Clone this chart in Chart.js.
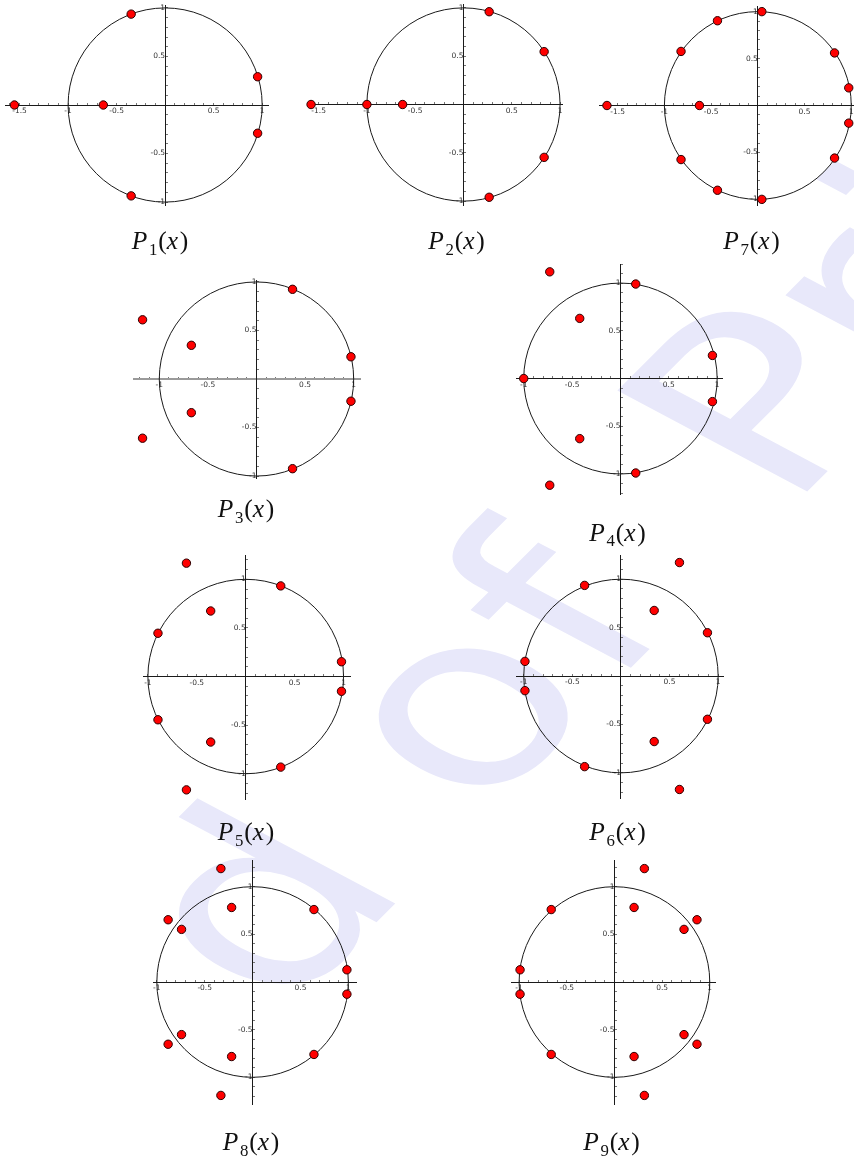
<!DOCTYPE html>
<html>
<head>
<meta charset="utf-8">
<script src="https://cdn.jsdelivr.net/npm/chart.js@4.4.1/dist/chart.umd.min.js"></script>
<style>
html,body{margin:0;padding:0;background:#fff;}
#page{position:relative;width:854px;height:1160px;overflow:hidden;background:#fff;}
#wm{position:absolute;left:0;top:0;}
canvas.plot{position:absolute;}
.lbl{position:absolute;transform:translate(-50%,-50%);font-family:"Liberation Serif","DejaVu Serif",serif;font-size:25.5px;line-height:1;white-space:nowrap;color:#111;}
.lbl i{letter-spacing:1.5px;}
.lbl sub{font-style:normal;font-size:0.66em;vertical-align:-0.34em;line-height:0;margin-right:1px;}
</style>
</head>
<body>
<div id="page"><canvas id="wm" width="854" height="1160"></canvas></div>
<script>
const p1Re=[-1.553,-0.637,-0.35,-0.35,0.953,0.953];
const p1Im=[0,0,0.936,-0.936,0.291,-0.291];
const p2Re=[-1.578,-1,-0.63,0.266,0.266,0.835,0.835];
const p2Im=[0,0,0,0.96,-0.96,0.547,-0.547];
const p7Re=[-1.615,-0.625,0.043,0.043,-0.432,-0.432,-0.822,-0.822,0.821,0.821,0.973,0.973];
const p7Im=[0,0,1.0,-1.0,0.903,-0.903,0.576,-0.576,0.56,-0.56,0.188,-0.188];
const p3Re=[-1.172,-1.172,-0.67,-0.67,0.371,0.371,0.972,0.972];
const p3Im=[0.61,-0.61,0.347,-0.347,0.924,-0.924,0.229,-0.229];
const p4Re=[-1,-0.731,-0.731,-0.421,-0.421,0.158,0.158,0.951,0.951];
const p4Im=[0,1.118,-1.118,0.63,-0.63,0.99,-0.99,0.242,-0.242];
const p5Re=[-0.606,-0.606,-0.358,-0.358,-0.897,-0.897,0.358,0.358,0.979,0.979];
const p5Im=[1.166,-1.166,0.674,-0.674,0.445,-0.445,0.932,-0.932,0.152,-0.152];
const p6Re=[0.602,0.602,0.342,0.342,0.89,0.89,-0.374,-0.374,-0.988,-0.988];
const p6Im=[1.172,-1.172,0.677,-0.677,0.447,-0.447,0.936,-0.936,0.151,-0.151];
const p8Re=[-0.331,-0.331,-0.219,-0.219,-0.882,-0.882,-0.742,-0.742,0.641,0.641,0.985,0.985];
const p8Im=[1.19,-1.19,0.782,-0.782,0.653,-0.653,0.552,-0.552,0.76,-0.76,0.128,-0.128];
const p9Re=[0.314,0.314,0.206,0.206,0.866,0.866,0.73,0.73,-0.663,-0.663,-0.99,-0.99];
const p9Im=[1.19,-1.19,0.782,-0.782,0.653,-0.653,0.552,-0.552,0.76,-0.76,0.128,-0.128];

const majorTicks=[-1.5,-1,-0.5,0.5,1];
const tickStep=0.1;

// where each little plot sits on the page (origin pixel, pixels per unit, axis extents, caption centre)
const panels=[
  {n:1,re:p1Re,im:p1Im,ox:165,  oy:105,  ux:97.2,uy:97,  xr:[-1.65,1.06], yr:[-1.03,1.03],lx:160,  ly:241},
  {n:2,re:p2Re,im:p2Im,ox:463.3,oy:105,  ux:96.7,uy:96.7,xr:[-1.62,1.02], yr:[-1.04,1.04],lx:456.5,ly:241},
  {n:7,re:p7Re,im:p7Im,ox:757.7,oy:105.3,ux:93.3,uy:93.7,xr:[-1.70,1.04], yr:[-1.06,1.06],lx:751.5,ly:241},
  {n:3,re:p3Re,im:p3Im,ox:256,  oy:379,  ux:97,  uy:97,  xr:[-1.26,1.065],yr:[-1.02,1.02],lx:246,  ly:509,grayX:true},
  {n:4,re:p4Re,im:p4Im,ox:620.7,oy:379,  ux:96.7,uy:95.5,xr:[-1.08,1.05], yr:[-1.21,1.2], lx:617.5,ly:532.5},
  {n:5,re:p5Re,im:p5Im,ox:246,  oy:676.7,ux:97.8,uy:97.3,xr:[-1.05,1.066],yr:[-1.26,1.25],lx:246,  ly:832},
  {n:6,re:p6Re,im:p6Im,ox:620.7,oy:676.7,ux:97.3,uy:97,  xr:[-1.08,1.05], yr:[-1.26,1.25],lx:617.5,ly:832},
  {n:8,re:p8Re,im:p8Im,ox:252.7,oy:982,  ux:95.7,uy:95.3,xr:[-1.04,1.08], yr:[-1.28,1.28],lx:251,  ly:1142},
  {n:9,re:p9Re,im:p9Im,ox:614.3,oy:982,  ux:95.5,uy:95.3,xr:[-1.085,1.055],yr:[-1.28,1.28],lx:611.5,ly:1142}
];

// faint slanted watermark behind the plots
(function(){
  const c=document.getElementById('wm').getContext('2d');
  const fs=295;
  const base=-45*Math.PI/180, stem=28*Math.PI/180;
  c.setTransform(Math.cos(base),Math.sin(base),Math.cos(stem),Math.sin(stem),474,717);
  c.font=fs+'px "DejaVu Sans"';
  c.fillStyle='#e8e8fa';
  const along=c.measureText('d ').width+c.measureText('o').width/2;
  c.fillText('d of',-along,0.27*fs);
  const x2=-along+c.measureText('d of ').width+55;
  c.fillText('Pri',x2,0.27*fs);
})();

const unitCircle={
  id:'unitCircle',
  beforeDatasetsDraw(chart){
    const {ctx,scales:{x,y}}=chart;
    const cx=x.getPixelForValue(0), cy=y.getPixelForValue(0);
    const rx=x.getPixelForValue(1)-cx, ry=cy-y.getPixelForValue(1);
    ctx.save();
    ctx.beginPath();
    ctx.ellipse(cx,cy,rx,ry,0,0,Math.PI*2);
    ctx.strokeStyle='#1a1a1a'; ctx.lineWidth=1; ctx.stroke();
    ctx.restore();
  }
};

function tickLabel(v){
  const r=Math.round(v*10)/10;
  return majorTicks.includes(r)?String(r):'';
}

const PAD=20;
const page=document.getElementById('page');
panels.forEach(p=>{
  const cv=document.createElement('canvas');
  cv.className='plot';
  const left=Math.round(p.ox+p.xr[0]*p.ux-PAD), top=Math.round(p.oy-p.yr[1]*p.uy-PAD);
  const w=Math.round((p.xr[1]-p.xr[0])*p.ux+2*PAD), h=Math.round((p.yr[1]-p.yr[0])*p.uy+2*PAD);
  cv.width=w; cv.height=h;
  cv.style.left=left+'px'; cv.style.top=top+'px';
  cv.style.width=w+'px'; cv.style.height=h+'px';
  page.appendChild(cv);

  const lbl=document.createElement('div');
  lbl.className='lbl';
  lbl.style.left=p.lx+'px'; lbl.style.top=p.ly+'px';
  lbl.innerHTML=`<i>P</i><sub>${p.n}</sub>(<i>x</i>)`;
  page.appendChild(lbl);

  const tickFont={family:'"DejaVu Sans", sans-serif',size:7.5};
  new Chart(cv,{
    type:'scatter',
    data:{datasets:[{
      data:p.re.map((x,i)=>({x,y:p.im[i]})),
      pointRadius:4.2, pointHoverRadius:4.2,
      backgroundColor:'#ff0000', borderColor:'#2a0000', borderWidth:1,
      clip:false
    }]},
    options:{
      responsive:false, animation:false, events:[],
      layout:{padding:PAD},
      plugins:{legend:{display:false},tooltip:{enabled:false}},
      scales:{
        x:{type:'linear',position:{y:0},min:p.xr[0],max:p.xr[1],
           border:{display:true,color:p.grayX?'#9a9a9a':'#1a1a1a',width:p.grayX?2:1},
           grid:{drawOnChartArea:false,drawTicks:true,tickLength:-3,tickColor:'#777',tickWidth:1},
           ticks:{stepSize:tickStep,includeBounds:false,autoSkip:false,maxRotation:0,padding:5,
                  color:'#333',font:tickFont,callback:tickLabel}},
        y:{type:'linear',position:{x:0},min:p.yr[0],max:p.yr[1],
           border:{display:true,color:'#1a1a1a',width:1},
           grid:{drawOnChartArea:false,drawTicks:true,tickLength:-3,tickColor:'#777',tickWidth:1},
           ticks:{stepSize:tickStep,includeBounds:false,autoSkip:false,padding:8,
                  color:'#333',font:tickFont,callback:tickLabel}}
      }
    },
    plugins:[unitCircle]
  });
});
</script>
</body>
</html>
